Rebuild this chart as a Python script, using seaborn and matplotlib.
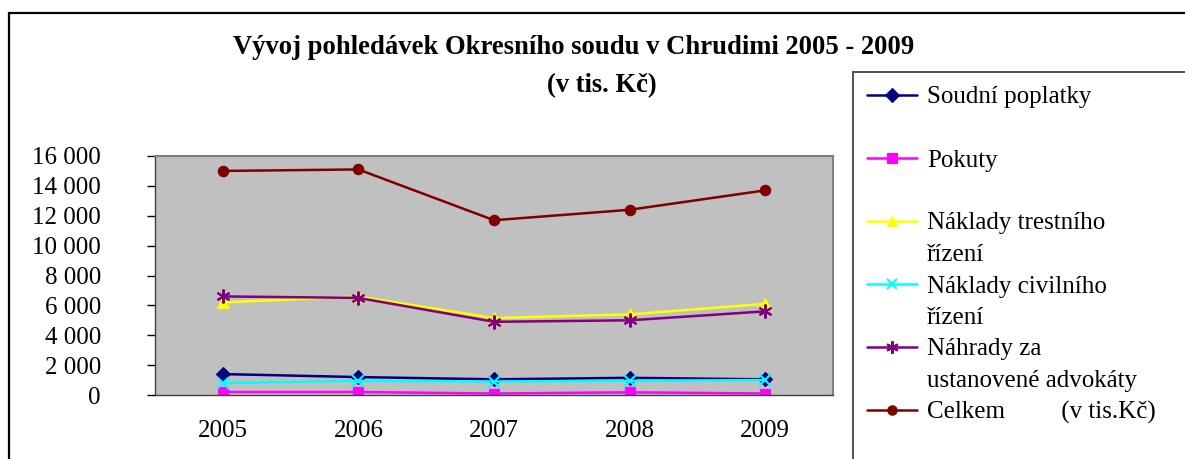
import matplotlib
matplotlib.use("Agg")
import matplotlib.pyplot as plt
import seaborn as sns
import pandas as pd
import numpy as np
from matplotlib.patches import Rectangle
from matplotlib.lines import Line2D

# ---- data ----
years = ["2005", "2006", "2007", "2008", "2009"]
soudni_poplatky = [1400, 1200, 1050, 1150, 1050]
pokuty = [200, 200, 100, 180, 100]
naklady_trestniho = [6200, 6600, 5150, 5400, 6100]
naklady_civilniho = [800, 950, 900, 950, 1000]
nahrady_advokaty = [6600, 6500, 4900, 5000, 5600]
celkem = [15000, 15100, 11700, 12400, 13700]

series_names = ["Soudní poplatky", "Pokuty", "Náklady trestního řízení",
                "Náklady civilního řízení", "Náhrady za ustanovené advokáty",
                "Celkem (v tis.Kč)"]
legend_rows = [["Soudní poplatky", ""], ["Pokuty", ""],
               ["Náklady trestního", "řízení"], ["Náklady civilního", "řízení"],
               ["Náhrady za", "ustanovené advokáty"], ["Celkem         (v tis.Kč)"]]
ytick_values = [0, 2000, 4000, 6000, 8000, 10000, 12000, 14000, 16000]
ytick_labels = ["0", "2 000", "4 000", "6 000", "8 000", "10 000", "12 000", "14 000", "16 000"]
title_line1 = "Vývoj pohledávek Okresního soudu v Chrudimi 2005 - 2009"
title_line2 = "(v tis. Kč)"

colors = ["#000080", "#FF00FF", "#FFFF00", "#00FFFF", "#800080", "#800000"]
markers = ["D", "s", "^", "x", (6, 2, 0), "o"]
msizes = [7.5, 7.5, 8.5, 8, 10, 7.5]

all_values = [soudni_poplatky, pokuty, naklady_trestniho, naklady_civilniho,
              nahrady_advokaty, celkem]

rows = []
for name, vals in zip(series_names, all_values):
    for i, (y, v) in enumerate(zip(years, vals)):
        rows.append({"pos": i, "year": y, "value": v, "series": name})
df = pd.DataFrame(rows)

sns.set_style("white")
plt.rcParams["font.family"] = ["Liberation Serif", "DejaVu Serif"]
plt.rcParams["text.color"] = "black"
plt.rcParams["xtick.color"] = "black"
plt.rcParams["ytick.color"] = "black"
plt.rcParams["axes.labelcolor"] = "black"

W, H = 1185, 459
fig = plt.figure(figsize=(W / 100, H / 100), dpi=100)
fig.patch.set_facecolor("white")

ax = fig.add_axes([155 / W, (H - 395) / H, (833 - 155) / W, (395 - 156) / H])
ax.set_facecolor("#C0C0C0")

handles = []
for name, c, m, ms in zip(series_names, colors, markers, msizes):
    sub = df[df["series"] == name]
    sns.lineplot(data=sub, x="pos", y="value", ax=ax, color=c, marker=m,
                 markersize=ms, markeredgecolor=c, markerfacecolor=c,
                 markeredgewidth=1.5 if m in ("x", (6, 2, 0)) else 0.8,
                 linewidth=1.8, legend=False, errorbar=None)
    handles.append(ax.lines[-1])

ax.set_xlim(-0.5, len(years) - 0.5)
ax.set_ylim(0, 16000)
ax.set_xticks(range(len(years)))
ax.set_xticklabels(years, fontsize=18, color="black")
ax.set_xticks(np.arange(-0.5, len(years), 1.0), minor=True)
ax.tick_params(axis="x", which="major", length=0, pad=18)
ax.tick_params(axis="x", which="minor", length=6, width=1, color="black", direction="out")
ax.set_yticks(ytick_values)
ax.set_yticklabels(ytick_labels, fontsize=18, color="black")
ax.tick_params(axis="y", which="major", length=6, width=1, color="black",
               direction="out", pad=33, left=True)
ax.set_xlabel("")
ax.set_ylabel("")
for side in ["top", "right"]:
    ax.spines[side].set_color("#808080")
    ax.spines[side].set_linewidth(1.5)
for side in ["left", "bottom"]:
    ax.spines[side].set_color("#404040")
    ax.spines[side].set_linewidth(1.0)

# titles
fig.text(574 / W, 1 - 48 / H, title_line1, ha="center", va="center",
         fontsize=19.2, fontweight="bold", color="black")
fig.text(602 / W, 1 - 86 / H, title_line2, ha="center", va="center",
         fontsize=19.2, fontweight="bold", color="black")

# chart outer border
fig.patches.append(Rectangle((9 / W, -0.2), 2.0, 1.2 - 13 / H, transform=fig.transFigure,
                             fill=False, edgecolor="black", linewidth=1.6, zorder=0))
# legend frame
fig.patches.append(Rectangle((853 / W, -0.2), 1.0, 1.2 - 72 / H, transform=fig.transFigure,
                             fill=False, edgecolor="#505050", linewidth=1.4, zorder=0))

# legend entries (second lines get invisible handles)
blank = Line2D([], [], linestyle="none", marker=None)
leg_handles, leg_labels = [], []
for h, lines in zip(handles, legend_rows):
    leg_handles.append(h)
    leg_labels.append(lines[0])
    for extra in lines[1:]:
        leg_handles.append(blank)
        leg_labels.append(extra)

leg = fig.legend(leg_handles, leg_labels, loc="upper left",
                 bbox_to_anchor=(867 / W, 1 - 86 / H), bbox_transform=fig.transFigure,
                 frameon=False, fontsize=18, handlelength=2.0, handletextpad=0.4,
                 labelspacing=0.36, borderpad=0, borderaxespad=0, markerscale=0.9)
for t in leg.get_texts():
    t.set_color("black")

fig.savefig("out.png", dpi=100)
